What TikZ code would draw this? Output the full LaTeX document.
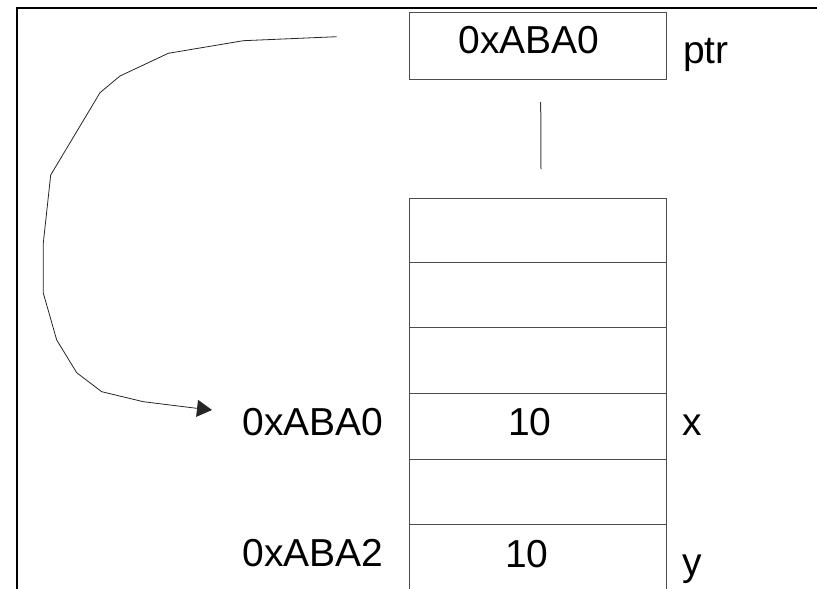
\documentclass[tikz,border=0pt]{standalone}
\usepackage{fontspec}
\setmainfont{Liberation Sans}
\usetikzlibrary{arrows.meta}
\tikzset{
  frameline/.style={line width=2.2pt, black},
  cellbox/.style={draw=black!70, line width=1pt, minimum width=256.5pt, anchor=north west, inner sep=0pt},
  bigtext/.style={font=\fontsize{39}{44}\selectfont, anchor=base, inner sep=0pt},
  pointer/.style={line width=0.8pt, black!85, -{Triangle[length=15pt,width=17pt]}},
  link/.style={line width=1pt, black!75}
}
\begin{document}
\begin{tikzpicture}[x=1pt,y=-1pt]
  \useasboundingbox (0,0) rectangle (817,589);
  % outer frame (left and top edges)
  \draw[frameline] (17,589) -- (17,8) -- (817,8);

  % pointer variable
  \node[cellbox, minimum height=67pt] (ptrbox) at (409,12) {};
  \node[bigtext] (ptrval) at (529,53) {0xABA0};
  \node[bigtext] (ptrname) at (706,63) {ptr};

  % memory cells
  \node[cellbox, minimum height=64pt] (c1) at (409,198) {};
  \node[cellbox, minimum height=65pt] (c2) at (409,262) {};
  \node[cellbox, minimum height=66pt] (c3) at (409,327) {};
  \node[cellbox, minimum height=66pt] (c4) at (409,393) {};
  \node[cellbox, minimum height=65pt] (c5) at (409,459) {};
  \node[cellbox, minimum height=72pt] (c6) at (409,524) {};

  % contents, addresses and names
  \node[bigtext] (xval) at (530,435) {10};
  \node[bigtext] (yval) at (527,567) {10};
  \node[bigtext] (xaddr) at (313,435) {0xABA0};
  \node[bigtext] (yaddr) at (313,566) {0xABA2};
  \node[bigtext] (xname) at (692,435) {x};
  \node[bigtext] (yname) at (692,575) {y};

  % link between pointer and memory
  \coordinate (linktop) at (540.7,102);
  \coordinate (linkbot) at (541,169);
  \draw[link] (linktop) -- (linkbot);

  % arrow from pointer value to the address of x
  \coordinate (arcstart) at (336.7,36.7);
  \coordinate (arcend) at (212,410);
  \draw[pointer] (arcstart) -- (243.3,40.7) -- (168.3,53.3) -- (120,76)
    -- (100,92.7) -- (50.7,175) -- (43.3,243) -- (43.3,293) -- (56.7,340)
    -- (76.7,372.7) -- (101.7,391.7) -- (143.3,401.7) -- (196.7,408.3)
    -- (arcend);
\end{tikzpicture}
\end{document}
